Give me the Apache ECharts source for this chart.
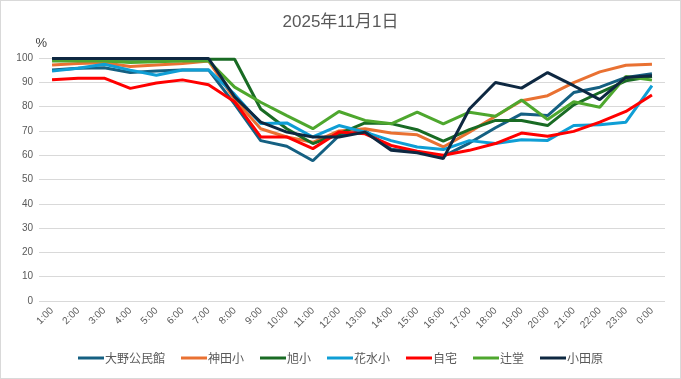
<!DOCTYPE html>
<html><head><meta charset="utf-8">
<script src="https://cdn.jsdelivr.net/npm/echarts@6/dist/echarts.min.js"></script>
<style>html,body{margin:0;padding:0;background:#fff}#c{width:681px;height:379px;box-sizing:border-box;border:1px solid #d9d9d9}</style>
</head><body><div id="c"></div>
<script>
const categories = ['1:00','2:00','3:00','4:00','5:00','6:00','7:00','8:00','9:00','10:00','11:00','12:00','13:00','14:00','15:00','16:00','17:00','18:00','19:00','20:00','21:00','22:00','23:00','0:00'];
const seriesNames = ['大野公民館','神田小','旭小','花水小','自宅','辻堂','小田原'];
const oono    = [95.1,95.8,96,94,94.7,95.1,95.1,81,66,63.7,57.7,68,70.2,62.5,61.3,59.5,65,71.3,77,76.3,85.8,88,92,93.5];
const kanda   = [97.1,97.7,98,96.5,97.1,97.7,98.8,83,70.9,67.5,65.3,70,70.9,69.1,68.4,63.4,69.5,76,82.4,84.5,89.9,94.3,97,97.4];
const asahi   = [99.5,99.5,99.5,99.5,99.5,99.5,99.5,99.5,79,70.9,64.8,68.8,73.3,73,70.5,65.8,70.5,74.3,74.3,72.2,80.7,85.8,90.6,92.4];
const hanamizu= [94.6,95.8,97.4,95,92.9,95.1,95.1,85,73,73.3,67.5,72.2,69.5,66,63.4,62.3,66,64.8,66.4,66.1,72.2,72.5,73.6,88.6];
const jitaku  = [91,91.7,91.7,87.5,89.7,91,89,82,67.5,67.5,62.7,69.5,68.8,64,61.6,60,62,64.8,69.1,67.8,69.8,73.6,78,84.8];
const tsujido = [98.8,98.8,98.8,98.1,98.5,98.8,98.8,88,81.8,76.3,70.9,78,74.3,72.9,77.7,72.9,77.7,76,82.7,74.7,82,79.7,92.4,90.9];
const odawara = [99.8,99.8,99.8,99.8,99.8,99.8,99.8,84,73.6,69.5,67.5,67.5,69.5,62,61,58.6,79,89.9,87.6,94,88.6,82.9,92,92.7];
const yTicks = [0,10,20,30,40,50,60,70,80,90,100];
const colors = ['#156082','#E97132','#196B24','#0F9ED5','#FF0000','#4EA72E','#0E2841'];
const allData = [oono,kanda,asahi,hanamizu,jitaku,tsujido,odawara];

const chart = echarts.init(document.getElementById('c'));
chart.setOption({
  animation:false,
  title:{text:'2025年11月1日',left:'center',top:8,textStyle:{fontSize:17,fontWeight:'normal',color:'#595959',fontFamily:'Liberation Sans, Noto Sans CJK JP'}},
  legend:{bottom:9,left:'center',itemWidth:26,itemHeight:3,itemGap:16,icon:'rect',
    textStyle:{fontSize:12,color:'#595959',fontFamily:'Noto Sans CJK JP',padding:[0,0,0,-4]},data:seriesNames},
  grid:{left:38,right:15,top:57,bottom:77},
  xAxis:{type:'category',data:categories,boundaryGap:true,
    axisLine:{show:false},axisTick:{show:false},
    axisLabel:{rotate:45,fontSize:10,color:'#595959',interval:0,margin:8,fontFamily:'Liberation Sans'}},
  yAxis:{type:'value',min:yTicks[0],max:yTicks[yTicks.length-1],interval:10,
    name:'%',nameLocation:'end',nameGap:8,nameTextStyle:{color:'#404040',fontSize:13,align:'right',padding:[0,-8,0,0]},
    axisLine:{show:false},axisTick:{show:false},
    axisLabel:{fontSize:10,color:'#595959',margin:6,fontFamily:'Liberation Sans'},
    splitLine:{lineStyle:{color:'#d9d9d9',width:1}}},
  series: seriesNames.map((n,i)=>({name:n,type:'line',data:allData[i],symbol:'none',
    lineStyle:{width:3,color:colors[i]},itemStyle:{color:colors[i]}}))
});
</script></body></html>
